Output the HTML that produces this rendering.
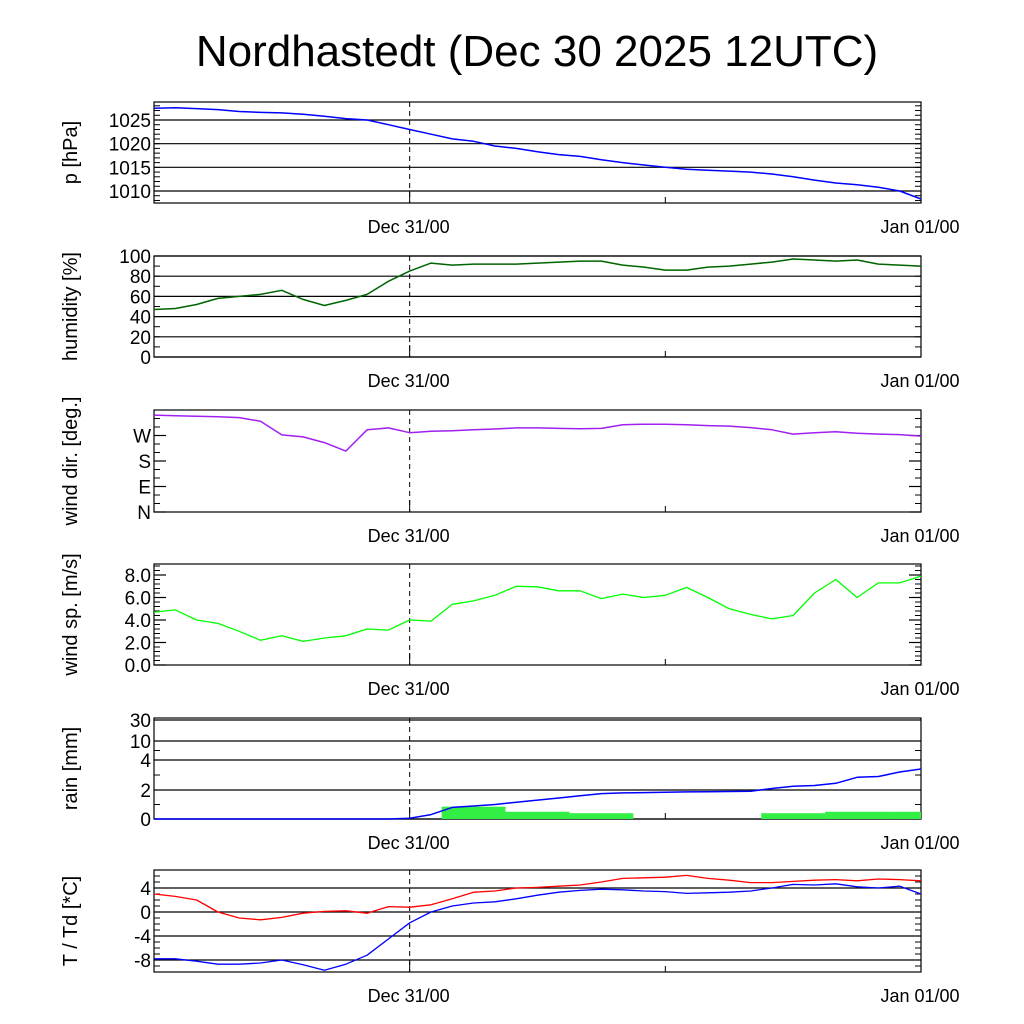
<!DOCTYPE html>
<html><head><meta charset="utf-8">
<style>
html,body{margin:0;padding:0;background:#fff;}
svg{display:block;font-family:"Liberation Sans",sans-serif;}
</style></head>
<body>
<svg id="chart" width="1024" height="1024" viewBox="0 0 1024 1024">
<text x="537" y="66" font-size="44" text-anchor="middle">Nordhastedt (Dec 30 2025 12UTC)</text>
</svg>
<script>
// hourly data from Dec 30 12UTC (h0) to Jan 01 00UTC (h36)
const hours = Array.from({length:37},(_,i)=>i);
const xTickLabels = ["Dec 31/00","Jan 01/00"];
const xTickHours = [12,36];
const pressure = [1027.5,1027.6,1027.4,1027.2,1026.8,1026.6,1026.5,1026.2,1025.8,1025.3,1025,1024,1023,1022,1021,1020.5,1019.5,1019,1018.3,1017.7,1017.3,1016.6,1016,1015.5,1015,1014.6,1014.4,1014.2,1014,1013.6,1013,1012.3,1011.7,1011.3,1010.8,1010,1008.3];
const humidity = [47,48,52,58,60,62,66,57,51,56,62,75,85,93,91,92,92,92,93,94,95,95,91,89,86,86,89,90,92,94,97,96,95,96,92,91,90];
const windDir = [342,340,338,336,333,320,272,265,245,215,290,297,280,285,287,290,293,297,297,295,294,295,308,310,310,308,305,303,298,290,275,280,283,278,275,273,268];
const windSpeed = [4.7,4.9,4.0,3.7,3.0,2.2,2.6,2.1,2.4,2.6,3.2,3.1,4.0,3.9,5.4,5.7,6.2,7.0,6.95,6.6,6.6,5.9,6.3,6.0,6.2,6.9,6.0,5.0,4.5,4.1,4.4,6.4,7.6,6.0,7.3,7.3,7.9];
const rainCum = [0,0,0,0,0,0,0,0,0,0,0,0,0.05,0.3,0.8,0.9,1.0,1.15,1.3,1.45,1.6,1.75,1.8,1.82,1.85,1.87,1.88,1.9,1.92,2.1,2.25,2.3,2.45,2.85,2.9,3.2,3.4];
const rainBarStart = [13.5,16.5,19.5,28.5,31.5,34.5];
const rainBarEnd = [16.5,19.5,22.5,31.5,34.5,36];
const rainBarValue = [0.85,0.5,0.4,0.4,0.5,0.5];
const temp = [3.0,2.6,2.0,0.0,-1.0,-1.3,-0.9,-0.2,0.1,0.2,-0.2,0.9,0.8,1.2,2.2,3.3,3.5,4.0,4.1,4.3,4.5,5.0,5.6,5.7,5.8,6.1,5.6,5.3,4.9,4.9,5.1,5.3,5.4,5.2,5.5,5.4,5.2];
const dewpoint = [-7.8,-7.8,-8.2,-8.7,-8.7,-8.5,-8.0,-8.8,-9.7,-8.7,-7.2,-4.5,-1.8,0.0,1.0,1.5,1.7,2.2,2.8,3.3,3.6,3.8,3.7,3.5,3.4,3.1,3.2,3.3,3.5,4.0,4.6,4.5,4.7,4.2,4.0,4.3,3.0];
const rainTickVals = [0,2,4,10,30];
const rainTickLabels = ["0","2","4","10","30"];

const svg = document.getElementById('chart');
const NS = 'http://www.w3.org/2000/svg';
const X0 = 154, X1 = 921;
function xs(h){ return X0 + (X1-X0)*h/36; }
function mk(tag, attrs, parent){
  const e = document.createElementNS(NS, tag);
  for (const k in attrs) e.setAttribute(k, attrs[k]);
  (parent||svg).appendChild(e);
  return e;
}
function panel(name, top, bottom, ylab, ys, majors, labels, minors, grid){
  const g = mk('g', {});
  
  
  minors.forEach(v=>{
    const y = ys(v);
    mk('line',{x1:X0,x2:X0+6,y1:y,y2:y,stroke:'#000','stroke-width':1},g);
    mk('line',{x1:X1-6,x2:X1,y1:y,y2:y,stroke:'#000','stroke-width':1},g);
  });
  majors.forEach((v,i)=>{
    const y = ys(v);
    if (grid) mk('line',{x1:X0,x2:X1,y1:y,y2:y,stroke:'#000','stroke-width':1.2},g);
    else {
      mk('line',{x1:X0,x2:X0+12,y1:y,y2:y,stroke:'#000','stroke-width':1.2},g);
      mk('line',{x1:X1-12,x2:X1,y1:y,y2:y,stroke:'#000','stroke-width':1.2},g);
    }
    const t = mk('text',{x:X0-3,y:y+7,'font-size':19,'text-anchor':'end'},g);
    t.textContent = labels[i];
    
    
  });
  mk('line',{x1:xs(12),x2:xs(12),y1:top,y2:bottom,stroke:'#000','stroke-width':1,'stroke-dasharray':'5,4'},g);
  mk('line',{x1:xs(12),x2:xs(12),y1:bottom-12,y2:bottom,stroke:'#000','stroke-width':1},g);
  mk('line',{x1:xs(24),x2:xs(24),y1:bottom-6,y2:bottom,stroke:'#000','stroke-width':1},g);
  mk('rect',{x:X0,y:top,width:X1-X0,height:bottom-top,fill:'none',stroke:'#000','stroke-width':1.2},g);
  xTickHours.forEach((h,i)=>{
    const t = mk('text',{x:xs(h)-1,y:bottom+30,'font-size':18,'text-anchor':'middle'},g);
    t.textContent = xTickLabels[i];
    
    
  });
  const yl = mk('text',{x:0,y:0,'font-size':20,'text-anchor':'middle',transform:`translate(${X0-77},${(top+bottom)/2}) rotate(-90)`},g);
  yl.textContent = ylab;
  
  
  return g;
}
function line(g, data, ys, color, name, w){
  const d = data.map((v,i)=>(i?'L':'M')+xs(hours[i]).toFixed(1)+','+ys(v).toFixed(1)).join('');
  const p = mk('path',{d:d,fill:'none',stroke:color,'stroke-width':w||1.5,'stroke-linejoin':'round'},g);
  
  
}
function lin(v0,y0,v1,y1){ return v=>y0+(v-v0)*(y1-y0)/(v1-v0); }
function range(a,b,s){ const r=[]; for(let v=a; v<=b+1e-9; v+=s) r.push(+v.toFixed(3)); return r; }

let ys = lin(1010,191,1025,120);
let g = panel('pressure',102,203,'p [hPa]',ys,[1010,1015,1020,1025],['1010','1015','1020','1025'],range(1008,1028,1),true);
line(g,pressure,ys,'#0000ff','pressure-line');
ys = lin(0,357,100,256);
g = panel('humidity',256,357,'humidity [%]',ys,[0,20,40,60,80,100],['0','20','40','60','80','100'],range(0,100,10),true);
line(g,humidity,ys,'#006400','humidity-line');
ys = lin(0,512,360,410);
g = panel('wind-dir',410,512,'wind dir. [deg.]',ys,[0,90,180,270],['N','E','S','W'],range(0,360,30),false);
line(g,windDir,ys,'#a020f0','wind-direction-line');
ys = lin(0,665,8,575);
g = panel('wind-speed',564,665,'wind sp. [m/s]',ys,[0,2,4,6,8],['0.0','2.0','4.0','6.0','8.0'],range(0,8.8,0.4),false);
line(g,windSpeed,ys,'#00ff00','wind-speed-line',1.3);
const rainPix = [819,790,760,741,720];
function rainY(v){
  for (let i=1;i<rainTickVals.length;i++){
    if (v<=rainTickVals[i]) return rainPix[i-1]+(v-rainTickVals[i-1])*(rainPix[i]-rainPix[i-1])/(rainTickVals[i]-rainTickVals[i-1]);
  }
  return rainPix[rainPix.length-1];
}
g = panel('rain',718,819,'rain [mm]',rainY,rainTickVals,rainTickLabels,[1,3,7],true);
rainBarValue.forEach((v,i)=>{
  const r = mk('rect',{x:xs(rainBarStart[i]),y:rainY(v),width:xs(rainBarEnd[i])-xs(rainBarStart[i]),height:819-rainY(v),fill:'#33ee44'},g);
  
  
});
line(g,rainCum,rainY,'#0000ff','rain-cumulative-line');
ys = lin(0,912,4,888);
g = panel('temperature',870,972,'T / Td [*C]',ys,[-8,-4,0,4],['-8','-4','0','4'],range(-10,7,1),true);
line(g,temp,ys,'#ff0000','temperature-line',1.3);
line(g,dewpoint,ys,'#0000ff','dewpoint-line',1.3);
</script>
</body></html>
